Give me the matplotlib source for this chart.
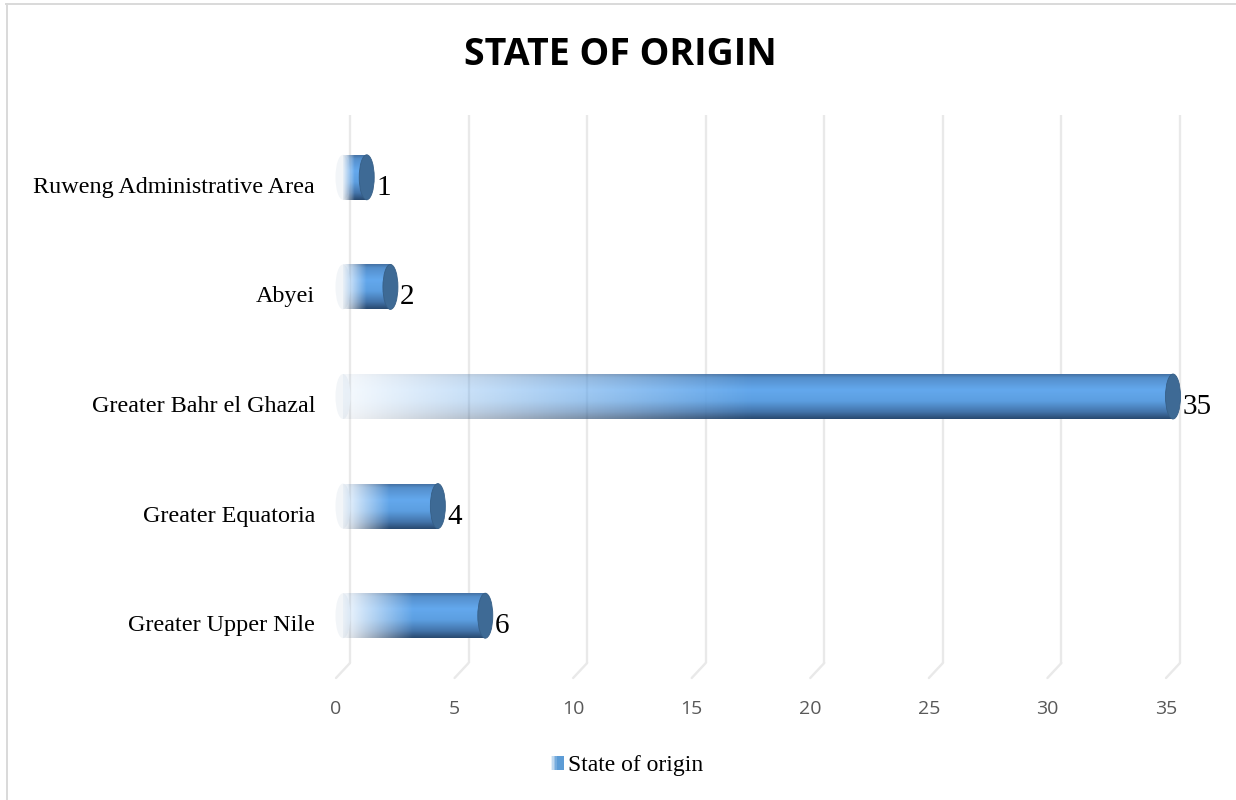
import numpy as np
import matplotlib
matplotlib.use("Agg")
import matplotlib.pyplot as plt
from matplotlib.transforms import ScaledTranslation
from matplotlib.patches import Ellipse, Rectangle, Patch
from matplotlib.legend_handler import HandlerBase
from matplotlib.lines import Line2D

# ---------------- data ----------------
categories = ["Ruweng Administrative Area", "Abyei", "Greater Bahr el Ghazal",
              "Greater Equatoria", "Greater Upper Nile"]
values = [1, 2, 35, 4, 6]
x_ticks = [0, 5, 10, 15, 20, 25, 30, 35]
series_name = "State of origin"
title = "STATE OF ORIGIN"

# ---------------- figure ----------------
W, H, DPI = 1236, 800, 100
fig = plt.figure(figsize=(W / DPI, H / DPI), dpi=DPI)
fig.patch.set_facecolor("white")

# frame lines of the embedded picture
fig.add_artist(Line2D([6 / W, 1], [1 - 3.5 / H, 1 - 3.5 / H], color="#d9d9d9", lw=1.4,
                      transform=fig.transFigure))
fig.add_artist(Line2D([6.5 / W, 6.5 / W], [0, 1 - 3.5 / H], color="#d9d9d9", lw=1.4,
                      transform=fig.transFigure))

# axes = front plane of the 3D box
ax = fig.add_axes([336 / W, 1 - 678 / H, 830 / W, 548 / H])
n = len(categories)
pos = np.arange(n)[::-1]
ax.set_xlim(x_ticks[0], x_ticks[-1])
ax.set_ylim(-0.5, n - 0.5)
for s in ax.spines.values():
    s.set_visible(False)
ax.set_facecolor("none")

px_per_unit = 830 / (x_ticks[-1] - x_ticks[0])
px_per_cat = 548 / n

back = ScaledTranslation(14 / DPI, 15 / DPI, fig.dpi_scale_trans)
mid = ScaledTranslation(7 / DPI, 7.5 / DPI, fig.dpi_scale_trans)

grid_col = "#e9e9e9"
for v in x_ticks:
    ax.plot([v, v], [-0.5, n - 0.5], color=grid_col, lw=1.7, transform=ax.transData + back,
            zorder=1, clip_on=False, solid_capstyle="butt")
    ax.annotate("", xy=(v, -0.5), xycoords="data", xytext=(14 * 0.72, 15 * 0.72),
                textcoords="offset points",
                arrowprops=dict(arrowstyle="-", color=grid_col, lw=1.7, shrinkA=0, shrinkB=0),
                zorder=1, annotation_clip=False)

# ---------------- cylinders ----------------
bar_h = 45 / px_per_cat
rows, cols = 80, 400
t_stops = [0.0, 0.08, 0.35, 0.6, 0.85, 1.0]
c_stops = np.array([[0.27, 0.45, 0.65],
                    [0.33, 0.56, 0.80],
                    [0.39, 0.66, 0.93],
                    [0.36, 0.62, 0.88],
                    [0.26, 0.45, 0.66],
                    [0.16, 0.29, 0.44]])
tt = np.linspace(0, 1, rows)
prof = np.stack([np.interp(tt, t_stops, c_stops[:, k]) for k in range(3)], axis=1)
xs = np.linspace(0, 1, cols)
alpha = np.clip(0.06 + xs / 0.52, 0, 1)
img = np.zeros((rows, cols, 4))
img[:, :, :3] = prof[:, None, :]
img[:, :, 3] = alpha[None, :]

cap_w = 15 / px_per_unit
for v, y in zip(values, pos):
    # faint start cap
    ax.add_patch(Ellipse((0, y), cap_w, bar_h, transform=ax.transData + mid,
                         fc="#f2f5f8", ec="none", zorder=2, clip_on=False))
    ax.imshow(img, extent=(0, v, y - bar_h / 2, y + bar_h / 2), origin="upper",
              transform=ax.transData + mid, aspect="auto", interpolation="bilinear",
              zorder=3, clip_on=False)
    ax.add_patch(Ellipse((v, y), cap_w, bar_h, transform=ax.transData + mid,
                         fc="#3e6a95", ec="#365f87", lw=0.6, zorder=4, clip_on=False))
    ax.annotate(str(v), xy=(v, y), xycoords="data",
                xytext=(16.5 * 0.72, -10 * 0.72), textcoords="offset points",
                ha="left", va="baseline", fontsize=21, family="Liberation Serif",
                color="black", zorder=5, annotation_clip=False)

ax.set_xlim(x_ticks[0], x_ticks[-1])
ax.set_ylim(-0.5, n - 0.5)

ax.set_yticks(pos)
ax.set_yticklabels(categories, fontsize=17.4, family="Liberation Serif", color="black")
ax.set_xticks(x_ticks)
ax.set_xticklabels([str(v) for v in x_ticks], fontsize=14, family="Open Sans", color="#595959")
ax.tick_params(axis="y", length=0, pad=21 * 0.72)
ax.tick_params(axis="x", length=0, pad=15.5)

# ---------------- title ----------------
fig.text(620 / W, 1 - 55 / H, title, ha="center", va="center", fontsize=27,
         fontweight="bold", family="Open Sans", color="black")

# ---------------- legend ----------------
class GradHandler(HandlerBase):
    def create_artists(self, legend, orig_handle, xdescent, ydescent, width, height,
                       fontsize, trans):
        arts = []
        k = 8
        for i in range(k):
            a = min(1.0, 0.15 + i / (k * 0.55))
            arts.append(Rectangle((-xdescent + i * width / k, -ydescent), width / k, height,
                                  fc=(0.36, 0.61, 0.84, a), ec="none", transform=trans))
        return arts

proxy = Patch(color="#5b9bd5", label=series_name)
fig.legend(handles=[proxy], handler_map={Patch: GradHandler()}, loc="center",
           bbox_to_anchor=(627 / W, 1 - 766 / H), frameon=False,
           prop={"family": "Liberation Serif", "size": 17},
           handlelength=0.55, handleheight=0.5, handletextpad=0.2)

fig.savefig("out.png", dpi=DPI, facecolor="white")
